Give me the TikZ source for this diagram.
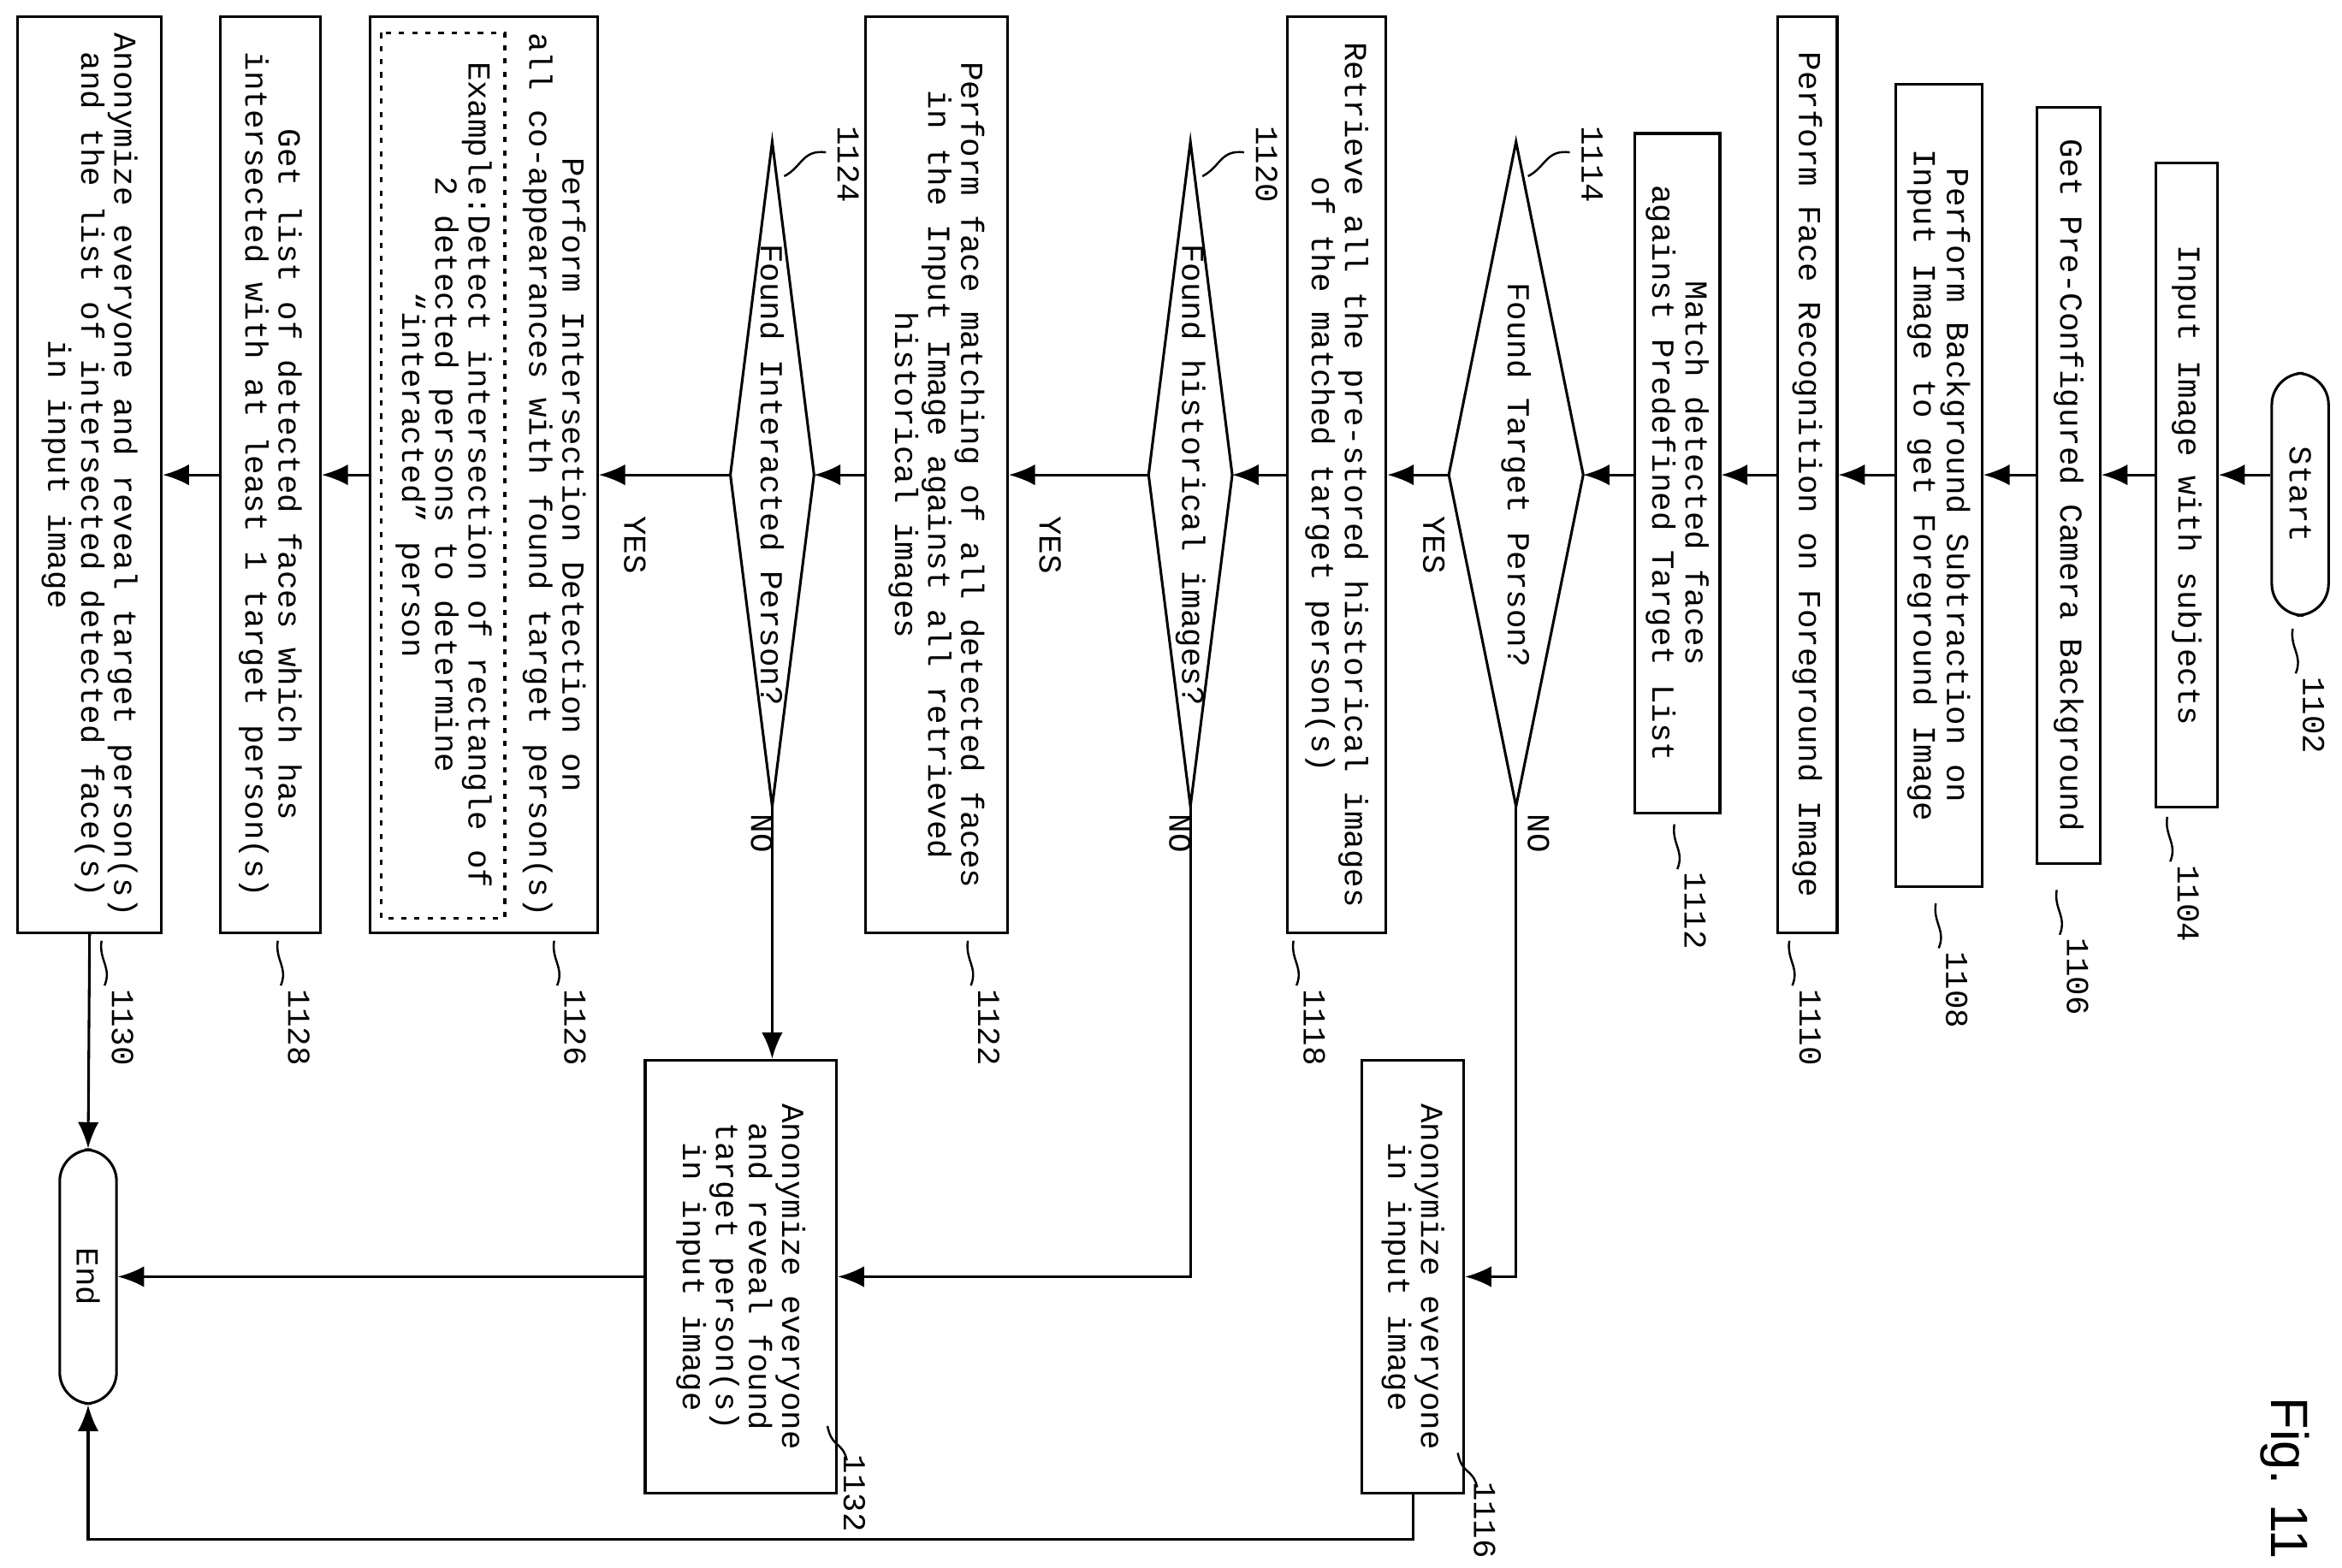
\documentclass[tikz,border=0pt]{standalone}
\usepackage{fontspec}
\setmainfont{Liberation Mono}
\newfontfamily\figfont{Liberation Sans}
\usetikzlibrary{arrows.meta}
\begin{document}
\begin{tikzpicture}[x=0.01cm,y=0.01cm,
  txt/.style={font=\fontsize{6.1}{6.3}\selectfont},
  box/.style={draw,line width=0.5pt,rotate=-90,align=center,inner sep=1pt,txt},
  term/.style={box,rounded corners=6pt},
  arr/.style={-{Latex[length=5pt,width=4pt]},line width=0.5pt},
  ln/.style={line width=0.5pt},
  lab/.style={rotate=-90,txt,inner sep=0pt},
  sq/.style={line width=0.4pt}]
\useasboundingbox (0,0) rectangle (1568,-1050);
\coordinate (m) at (0,-318);
\node[term,minimum width=1.62cm,minimum height=0.38cm] (start) at (1540,-331) {Start};
\node[box,minimum width=4.31cm,minimum height=0.41cm] (n104) at (1464,-325) {Input Image with subjects};
\node[box,minimum width=5.06cm,minimum height=0.42cm] (n106) at (1385,-325) {Get Pre-Configured Camera Background};
\node[box,minimum width=5.37cm,minimum height=0.58cm] (n108) at (1298,-325) {Perform Background Subtraction on\\Input Image to get Foreground Image};
\node[box,minimum width=6.13cm,minimum height=0.40cm] (n110) at (1210,-318) {Perform Face Recognition on Foreground Image};
\node[box,minimum width=4.55cm,minimum height=0.57cm] (n112) at (1123,-317) {Match detected faces\\against Predefined Target List};
% diamond 1
\draw[ln] (1060,-318) coordinate (d1r) -- (1015,-95) -- (970,-318) coordinate (d1l) -- (1015,-540) coordinate (d1b) -- cycle;
\node[lab] (d1) at (1015,-318) {Found Target Person?};
\node[box,minimum width=6.13cm,minimum height=0.66cm] (n118) at (895,-318) {Retrieve all the pre-stored historical images\\of the matched target person(s)};
\draw[ln] (825,-318) coordinate (d2r) -- (797,-95) -- (769,-318) coordinate (d2l) -- (797,-540) coordinate (d2b) -- cycle;
\node[lab] (d2) at (797,-318) {Found historical images?};
\node[box,minimum width=6.13cm,minimum height=0.95cm] (n122) at (627,-318) {Perform face matching of all detected faces\\in the Input Image against all retrieved\\historical images};
\draw[ln] (545,-318) coordinate (d3r) -- (517,-95) -- (489,-318) coordinate (d3l) -- (517,-540) coordinate (d3b) -- cycle;
\node[lab] (d3) at (517,-318) {Found  Interacted Person?};
\node[box,minimum width=6.13cm,minimum height=1.52cm] (n126) at (324,-318) {};
\node[lab] (t126) at (370,-318) {\begin{tabular}{@{}c@{}}Perform Intersection Detection on\\all co-appearances with found target person(s)\end{tabular}};
\draw[dash pattern=on 1pt off 1.5pt,line width=0.5pt] (255,-22) rectangle (338,-615);
\node[lab] (t126b) at (296,-318) {\begin{tabular}{@{}c@{}}Example:Detect intersection of rectangle of\\2 detected persons to determine\\``interacted'' person\end{tabular}};
\node[box,minimum width=6.13cm,minimum height=0.67cm] (n128) at (181,-318) {Get list of detected faces which has\\intersected with at least 1 target person(s)};
\node[box,minimum width=6.13cm,minimum height=0.96cm] (n130) at (60,-318) {Anonymize everyone and reveal target person(s)\\and the list of intersected detected face(s)\\in input image};
\node[box,minimum width=2.90cm,minimum height=0.68cm] (n116) at (946,-855) {Anonymize everyone\\in input image};
\node[box,minimum width=2.90cm,minimum height=1.28cm] (n132) at (496,-855) {Anonymize everyone\\and reveal found\\target person(s)\\in input image};
\node[term,minimum width=1.70cm,minimum height=0.38cm] (end) at (59,-855) {End};
% main flow
\draw[arr] (start.south|-m) -- (n104.north|-m);
\draw[arr] (n104.south|-m) -- (n106.north|-m);
\draw[arr] (n106.south|-m) -- (n108.north|-m);
\draw[arr] (n108.south|-m) -- (n110.north|-m);
\draw[arr] (n110.south|-m) -- (n112.north|-m);
\draw[arr] (n112.south|-m) -- (d1r);
\draw[arr] (d1l) -- (n118.north|-m);
\draw[arr] (n118.south|-m) -- (d2r);
\draw[arr] (d2l) -- (n122.north|-m);
\draw[arr] (n122.south|-m) -- (d3r);
\draw[arr] (d3l) -- (n126.north|-m);
\draw[arr] (n126.south|-m) -- (n128.north|-m);
\draw[arr] (n128.south|-m) -- (n130.north|-m);
\draw[arr] (n130.east) -- (end.west);
\draw[arr] (d1b) |- (n116.north);
\draw[arr] (d2b) |- (n132.north);
\draw[arr] (d3b) -- (d3b|-n132.west);
\draw[arr] (n132.south) -- (end.north);
\draw[arr] (n116.east) -- ++(0,-30) -| (end.east);
% yes/no
\node[lab] (y1) at (960,-365) {YES};
\node[lab] (y2) at (703,-365) {YES};
\node[lab] (y3) at (425,-365) {YES};
\node[lab] (o1) at (1030,-558) {NO};
\node[lab] (o2) at (790,-558) {NO};
\node[lab] (o3) at (510,-558) {NO};
% refs
\foreach \nm/\x/\y/\t in {r1102/1549/-479/1102,r1104/1465/-605/1104,r1106/1391/-654/1106,r1108/1310/-663/1108,r1110/1212/-688/1110,r1112/1135/-610/1112,r1118/880/-688/1118,r1122/662/-688/1122,r1126/385/-688/1126,r1128/200/-688/1128,r1130/82/-688/1130}{
  \node[lab] (\nm) at (\x,\y) {\t};
  \draw[sq] (\x-12,\y+28) .. controls (\x-7,\y+40) and (\x-16,\y+45) .. (\x-14,\y+58);
}
\foreach \nm/\x/\y/\t in {r1116/994/-1018/1116,r1132/572/-1000/1132}{
  \node[lab] (\nm) at (\x,\y) {\t};
  \draw[sq] (\x-5,\y+22) .. controls (\x-8,\y+35) and (\x-15,\y+30) .. (\x-18,\y+45);
}
\foreach \nm/\x/\t in {r1114/1015/1114,r1120/797/1120,r1124/517/1124}{
  \node[lab] (\nm) at (\x+51,-110) {\t};
  \draw[sq] (\x+8,-118) .. controls (\x+20,-112) and (\x+20,-100) .. (\x+36,-102);
}
\node[rotate=-90,font=\figfont\fontsize{10}{12}\selectfont] (fig) at (1530,-990) {Fig. 11};
\end{tikzpicture}
\end{document}
